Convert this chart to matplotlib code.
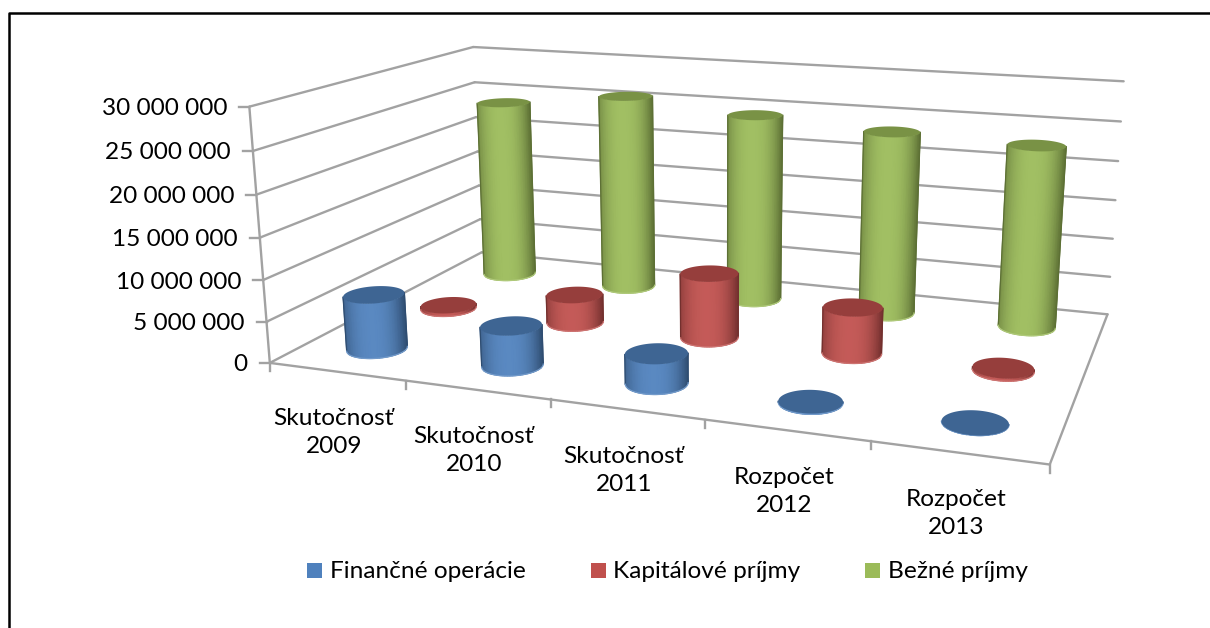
import matplotlib
import matplotlib.pyplot as plt
from matplotlib.colors import LinearSegmentedColormap, to_rgb
from matplotlib.patches import Polygon, Rectangle
import numpy as np
matplotlib.use('agg')

plt.rcParams['font.family'] = ['Lato', 'DejaVu Sans']

CATEGORIES = ['Skutočnosť\n2009', 'Skutočnosť\n2010', 'Skutočnosť\n2011', 'Rozpočet\n2012', 'Rozpočet\n2013']
SERIES = ['Finančné operácie', 'Kapitálové príjmy', 'Bežné príjmy']
FINANCNE = [6700000, 4800000, 3500000, 100000, 0]
KAPITALOVE = [400000, 3600000, 8100000, 5700000, 300000]
BEZNE = [24000000, 25900000, 24500000, 23500000, 23000000]
Y_TICKS = [0, 5000000, 10000000, 15000000, 20000000, 25000000, 30000000]
Y_LABELS = ['0', '5 000 000', '10 000 000', '15 000 000', '20 000 000', '25 000 000', '30 000 000']

BASE_COLORS = ['#4F81BD', '#C0504D', '#9BBB59']
GRID = '#A2A2A2'
RX, RY = 0.195, 0.21
FONT_SIZE = 17.6

# box corners: (category, series, value) -> picture pixel
CORNERS = [((0, 0, 0), (268.5, 363)), ((0, 0, 30e6), (250.5, 107)),
           ((0, 3, 0), (483, 252)), ((0, 3, 30e6), (472, 47)),
           ((5, 3, 0), (1107, 315)), ((5, 3, 30e6), (1124, 81)),
           ((5, 0, 0), (1050, 464))]


def fit_projection(corners):
    rows = []
    for (x, y, z), (u, v) in corners:
        z = z / 1e7
        rows.append([x, y, z, 1, 0, 0, 0, 0, -u * x, -u * y, -u * z, -u])
        rows.append([0, 0, 0, 0, x, y, z, 1, -v * x, -v * y, -v * z, -v])
    return np.linalg.svd(np.array(rows))[2][-1].reshape(3, 4)


P = fit_projection(CORNERS)


def project(x, y, z):
    x, y, z = np.broadcast_arrays(x, y, np.asarray(z, dtype=float) / 1e7)
    q = P @ np.array([x, y, z, np.ones_like(x)], dtype=float)
    return np.column_stack([q[0] / q[2], q[1] / q[2]])


def mix(col, other, t):
    return tuple(np.array(to_rgb(col)) * (1 - t) + np.array(to_rgb(other)) * t)


def draw_line(ax, a, b, color=GRID, lw=1.7, z=1):
    pts = project(*np.array([a, b], dtype=float).T)
    ax.plot(pts[:, 0], pts[:, 1], color=color, lw=lw, zorder=z, solid_capstyle='round')


def draw_cylinder(ax, cx, cy, value, color, z):
    th = np.linspace(0, 2 * np.pi, 181)[:-1]
    bottom = project(cx + RX * np.cos(th), cy + RY * np.sin(th), 0)
    top = project(cx + RX * np.cos(th), cy + RY * np.sin(th), value)
    mid_x = 0.5 * (bottom[:, 0] + top[:, 0])
    i0, i1 = int(np.argmin(mid_x)), int(np.argmax(mid_x))
    # walk the near side of the base, from the left silhouette to the right one
    n = len(th)
    arc_a = [(i0 + k) % n for k in range((i1 - i0) % n + 1)]
    arc_b = [(i0 - k) % n for k in range((i0 - i1) % n + 1)]
    arc = arc_a if bottom[arc_a, 1].mean() > bottom[arc_b, 1].mean() else arc_b

    # even columns across the width, thin slivers at the edges give a wavy outline
    t = (mid_x[arc] - mid_x[i0]) / (mid_x[i1] - mid_x[i0])
    u = np.linspace(0, 1, 25)
    X = np.array([np.interp(u, t, bottom[arc, 0]), np.interp(u, t, top[arc, 0])])
    Y = np.array([np.interp(u, t, bottom[arc, 1]), np.interp(u, t, top[arc, 1])])
    light = 1 - np.minimum(np.abs(u - 0.45) / 0.55, 1) ** 2.5
    dark = mix(color, '#000000', 0.4)
    cmap = LinearSegmentedColormap.from_list('side', [dark, mix(color, '#FFFFFF', 0.06)])
    ax.pcolormesh(X, Y, np.array([light, light]), cmap=cmap, vmin=0, vmax=1, shading='gouraud', zorder=z)
    # gouraud edges are not antialiased, so go over them with thin lines
    ax.plot(X[:, 0], Y[:, 0], color=dark, lw=0.9, zorder=z + 0.02)
    ax.plot(X[:, -1], Y[:, -1], color=dark, lw=0.9, zorder=z + 0.02)
    ax.plot(bottom[arc, 0], bottom[arc, 1], color=mix(color, '#FFFFFF', 0.2), lw=0.9, zorder=z + 0.02)
    ax.add_patch(Polygon(top, closed=True, fc=mix(color, '#000000', 0.22), ec='none', zorder=z + 0.05))


fig = plt.figure(figsize=(12.1, 6.28), dpi=100)
ax = fig.add_axes([0, 0, 1, 1])

# outer frame of the pasted picture, no right side in the source
ax.plot([8.5, 8.5, 1210], [628, 12.5, 12.5], color='black', lw=1.8, zorder=0)

# walls and floor
for tick, label in zip(Y_TICKS, Y_LABELS):
    draw_line(ax, (0, 0, tick), (0, 3, tick))
    draw_line(ax, (0, 3, tick), (5, 3, tick))
    p = project(0, 0, tick)[0]
    ax.plot([p[0] - 10, p[0]], [p[1], p[1]], color=GRID, lw=1.7, zorder=1)
    ax.text(p[0] - 22, p[1] + 2, label, ha='right', va='center', fontsize=FONT_SIZE, color='black')
draw_line(ax, (0, 0, 0), (0, 0, 30e6))
draw_line(ax, (0, 0, 0), (5, 0, 0))
draw_line(ax, (5, 0, 0), (5, 3, 0))

for i in range(len(CATEGORIES) + 1):
    p = project(i, 0, 0)[0]
    ax.plot([p[0], p[0]], [p[1], p[1] + 8], color=GRID, lw=1.7, zorder=1)

for i, label in enumerate(CATEGORIES):
    p = project(i + 0.5, 0, 0)[0]
    ax.text(p[0] - 3, p[1] + 61, label, ha='center', va='center', fontsize=FONT_SIZE, linespacing=1.4, color='black')

# back row first so nearer cylinders cover it
values = [FINANCNE, KAPITALOVE, BEZNE]
for row in (2, 1, 0):
    for i, v in enumerate(values[row]):
        draw_cylinder(ax, i + 0.5, row + 0.5, v, BASE_COLORS[row], 2 + (2 - row))

for name, color, x0 in zip(SERIES, BASE_COLORS, (307, 590.5, 865)):
    ax.add_patch(Rectangle((x0, 563), 15, 15, fc=color, ec='none'))
    ax.text(x0 + 22.5, 571.5, name, ha='left', va='center', fontsize=FONT_SIZE, color='black')

ax.set_xlim(0, 1210)
ax.set_ylim(628, 0)
ax.axis('off')

fig.savefig('out.png', dpi=100)
